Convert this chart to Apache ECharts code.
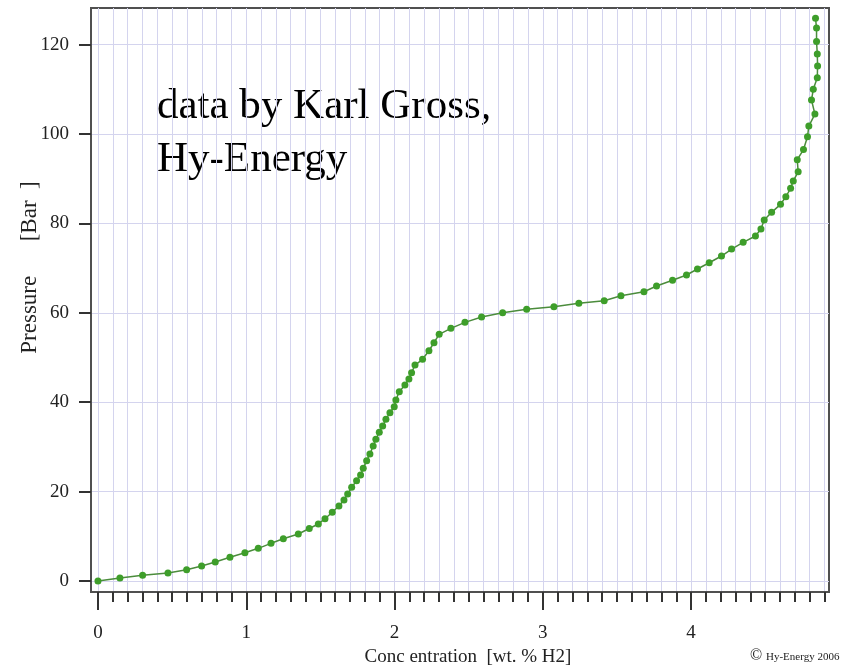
<!DOCTYPE html>
<html><head><meta charset="utf-8">
<script src="https://cdn.jsdelivr.net/npm/echarts@6/dist/echarts.min.js"></script>
<style>html,body{margin:0;padding:0;background:#fff}#c{width:846px;height:667px}</style>
</head><body><div id="c"></div>
<script>
// Concentration (wt. % H2)
const concentration = [0,0.148,0.301,0.472,0.598,0.699,0.791,0.890,0.991,1.081,1.167,1.25,1.351,1.425,1.486,1.531,1.580,1.625,1.659,1.684,1.711,1.744,1.771,1.789,1.812,1.834,1.856,1.874,1.897,1.920,1.942,1.969,1.998,2.009,2.032,2.070,2.097,2.115,2.138,2.189,2.232,2.266,2.301,2.380,2.475,2.587,2.729,2.891,3.075,3.243,3.414,3.527,3.682,3.767,3.875,3.969,4.043,4.122,4.205,4.273,4.351,4.434,4.471,4.493,4.543,4.603,4.639,4.671,4.689,4.722,4.716,4.758,4.785,4.794,4.835,4.812,4.824,4.851,4.853,4.851,4.846,4.846,4.839];
// Pressure (Bar)
const pressure = [0,0.67,1.27,1.79,2.53,3.36,4.25,5.30,6.33,7.31,8.43,9.46,10.51,11.75,12.75,13.94,15.37,16.78,18.12,19.46,20.96,22.44,23.71,25.21,26.91,28.41,30.20,31.70,33.27,34.68,36.17,37.65,38.99,40.49,42.35,43.85,45.19,46.60,48.32,49.60,51.52,53.31,55.19,56.53,57.87,59.05,60.02,60.78,61.36,62.12,62.71,63.83,64.72,66.00,67.3,68.46,69.80,71.21,72.71,74.27,75.77,77.18,78.75,80.76,82.48,84.27,85.97,87.85,89.48,91.57,94.26,96.53,99.40,101.79,104.47,107.61,110.0,112.6,115.2,117.9,120.7,123.7,125.9];
const xMajorTicks = [0,1,2,3,4];
const yTicks = [0,20,40,60,80,100,120];
const xMinorTicks = [];
for (let i = 0; i <= 49; i++) xMinorTicks.push(i / 10);

const serif = '"Liberation Serif","DejaVu Serif",serif';
const chart = echarts.init(document.getElementById('c'), null, {renderer: 'canvas'});
const points = concentration.map((c, i) => [c, pressure[i]]);
const gridColor = '#d4d4ee';
const axisColor = '#505050';

chart.setOption({
  animation: false,
  backgroundColor: '#ffffff',
  grid: {left: 91, right: 17, top: 8, bottom: 75, outerBoundsMode: 'none', containLabel: false, show: true, borderColor: axisColor, borderWidth: 2, backgroundColor: 'transparent'},
  xAxis: [{
    type: 'value', min: -0.047, max: 4.93,
    name: 'Conc entration  [wt. % H2]', nameLocation: 'middle', nameGap: 56,
    nameTextStyle: {fontFamily: serif, fontSize: 19, color: '#222', padding: [0,0,0,16]},
    axisLine: {show: true, onZero: false, lineStyle: {color: axisColor, width: 2}},
    axisTick: {show: true, inside: false, length: 18, customValues: xMajorTicks, lineStyle: {color: '#333', width: 2}},
    axisLabel: {show: true, customValues: xMajorTicks, margin: 32, fontFamily: serif, fontSize: 19, color: '#222'},
    splitLine: {show: false}
  }, {
    type: 'value', min: -0.047, max: 4.93, position: 'bottom', offset: 0,
    axisLine: {show: false, onZero: false},
    axisTick: {show: true, inside: false, length: 10, customValues: xMinorTicks, lineStyle: {color: '#333', width: 2}},
    axisLabel: {show: false},
    splitLine: {show: true, lineStyle: {color: gridColor, width: 1}}
  }],
  yAxis: {
    type: 'value', min: -2.46, max: 128.2,
    name: 'Pressure      [Bar  ]', nameLocation: 'middle', nameGap: 50, nameMoveOverlap: false,
    nameTextStyle: {fontFamily: serif, fontSize: 23, color: '#222', padding: [0,0,0,65]},
    axisLine: {show: true, onZero: false, lineStyle: {color: axisColor, width: 2}},
    axisTick: {show: true, length: 12, customValues: yTicks, lineStyle: {color: '#333', width: 2}},
    axisLabel: {show: true, customValues: yTicks, margin: 22, fontFamily: serif, fontSize: 19, color: '#222'},
    splitLine: {show: true, lineStyle: {color: gridColor, width: 1}}
  },
  series: [{
    type: 'line', xAxisIndex: 0, yAxisIndex: 0, data: points,
    symbol: 'circle', symbolSize: 7, showSymbol: true,
    lineStyle: {color: '#4b8c3c', width: 1.5},
    itemStyle: {color: '#3e9e2a'}
  }],
  graphic: [
    {type: 'text', left: 157, top: 80, style: {text: 'data by Karl Gross,\nHy-Energy', fontFamily: serif, fontSize: 43, lineHeight: 53, fill: '#000'}},
    {type: 'text', left: 750, top: 648, style: {text: '©', fontFamily: serif, fontSize: 16, fill: '#222'}},
    {type: 'text', left: 766, top: 652, style: {text: 'Hy-Energy 2006', fontFamily: serif, fontSize: 11, fill: '#222'}}
  ]
});
</script></body></html>
